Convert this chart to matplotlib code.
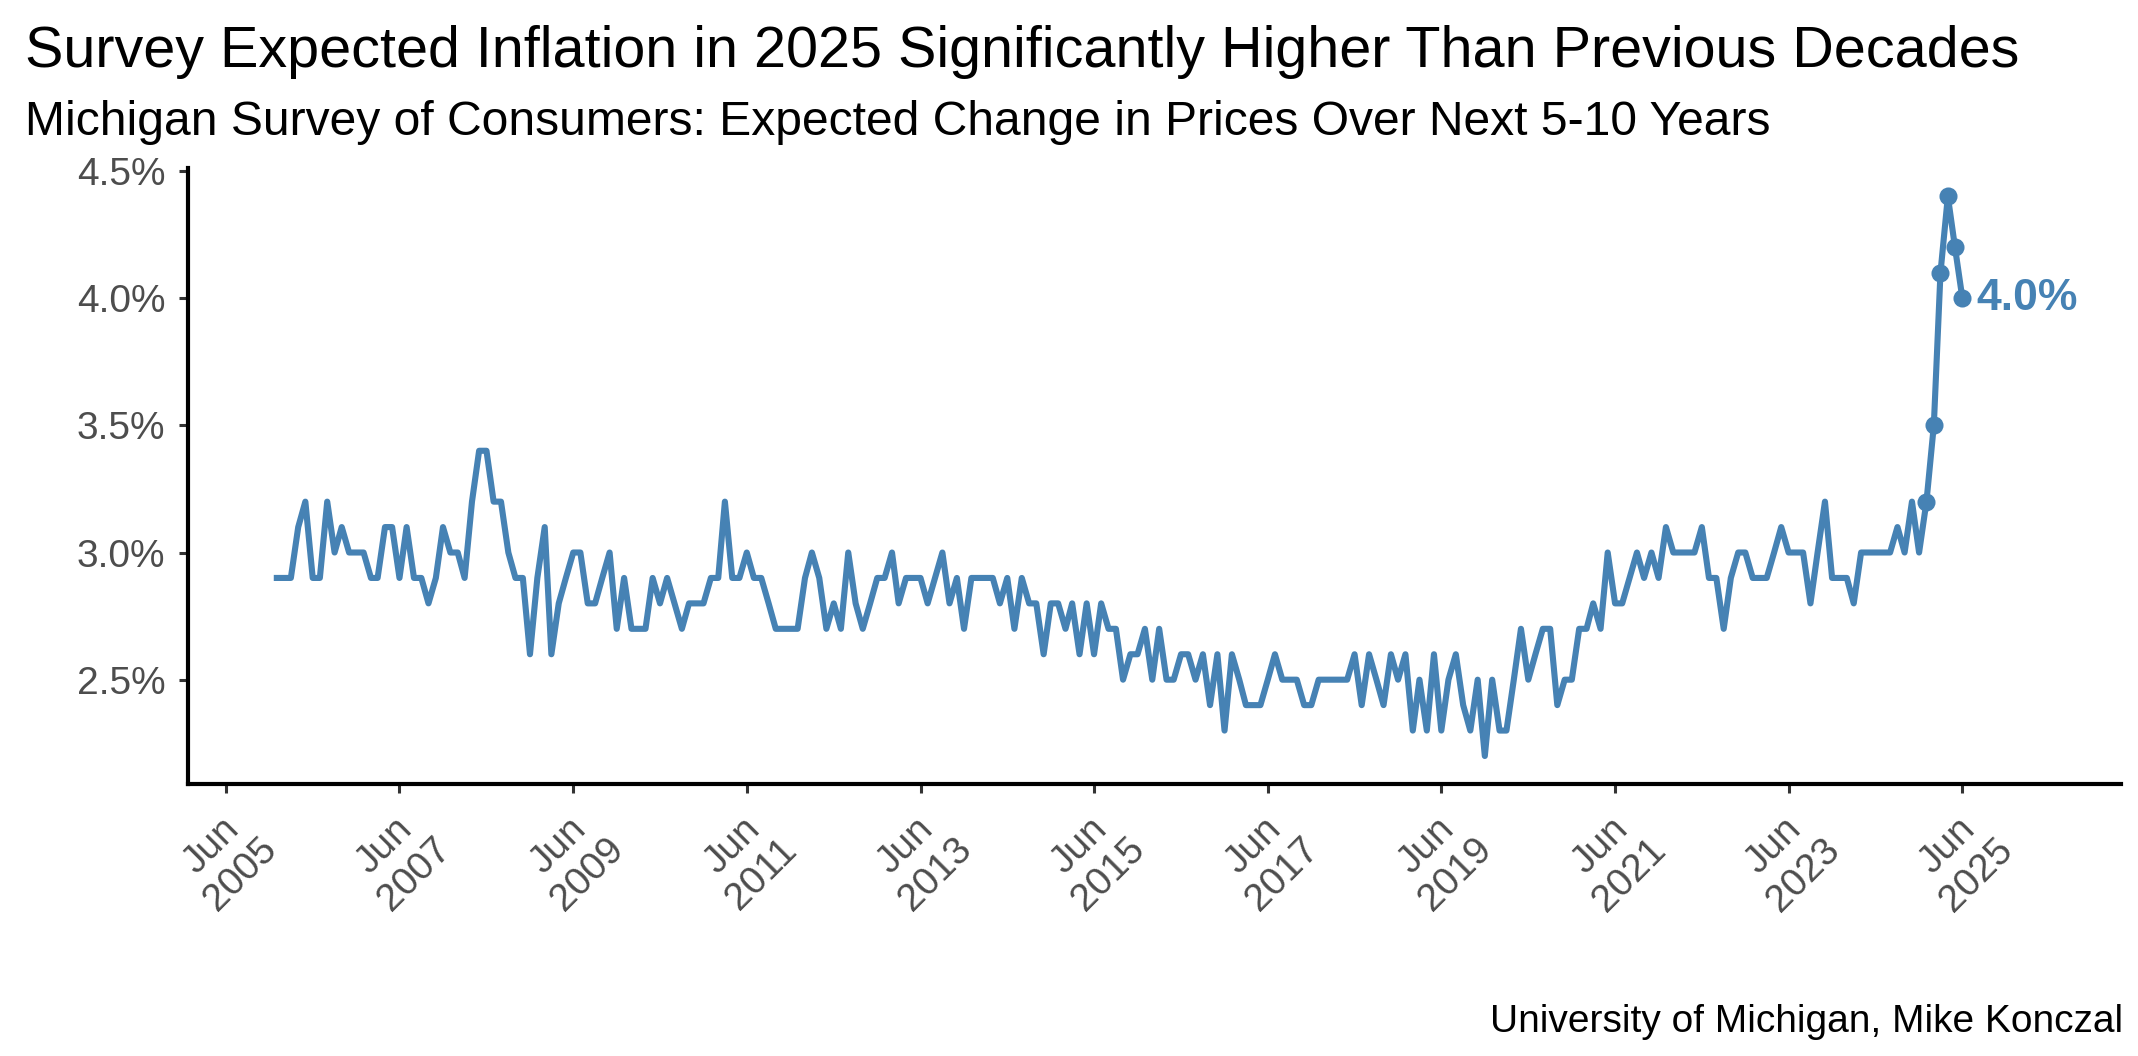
import pandas as pd
import matplotlib
matplotlib.use("Agg")
import matplotlib.pyplot as plt

plt.rcParams['font.family'] = ['Liberation Sans', 'DejaVu Sans']

title = "Survey Expected Inflation in 2025 Significantly Higher Than Previous Decades"
subtitle = "Michigan Survey of Consumers: Expected Change in Prices Over Next 5-10 Years"
caption = "University of Michigan, Mike Konczal"

# Expected change in prices over next 5-10 years (%), monthly from Jan 2006
v2006 = [2.9, 2.9, 2.9, 3.1, 3.2, 2.9, 2.9, 3.2, 3.0, 3.1, 3.0, 3.0]
v2007 = [3.0, 2.9, 2.9, 3.1, 3.1, 2.9, 3.1, 2.9, 2.9, 2.8, 2.9, 3.1]
v2008 = [3.0, 3.0, 2.9, 3.2, 3.4, 3.4, 3.2, 3.2, 3.0, 2.9, 2.9, 2.6]
v2009 = [2.9, 3.1, 2.6, 2.8, 2.9, 3.0, 3.0, 2.8, 2.8, 2.9, 3.0, 2.7]
v2010 = [2.9, 2.7, 2.7, 2.7, 2.9, 2.8, 2.9, 2.8, 2.7, 2.8, 2.8, 2.8]
v2011 = [2.9, 2.9, 3.2, 2.9, 2.9, 3.0, 2.9, 2.9, 2.8, 2.7, 2.7, 2.7]
v2012 = [2.7, 2.9, 3.0, 2.9, 2.7, 2.8, 2.7, 3.0, 2.8, 2.7, 2.8, 2.9]
v2013 = [2.9, 3.0, 2.8, 2.9, 2.9, 2.9, 2.8, 2.9, 3.0, 2.8, 2.9, 2.7]
v2014 = [2.9, 2.9, 2.9, 2.9, 2.8, 2.9, 2.7, 2.9, 2.8, 2.8, 2.6, 2.8]
v2015 = [2.8, 2.7, 2.8, 2.6, 2.8, 2.6, 2.8, 2.7, 2.7, 2.5, 2.6, 2.6]
v2016 = [2.7, 2.5, 2.7, 2.5, 2.5, 2.6, 2.6, 2.5, 2.6, 2.4, 2.6, 2.3]
v2017 = [2.6, 2.5, 2.4, 2.4, 2.4, 2.5, 2.6, 2.5, 2.5, 2.5, 2.4, 2.4]
v2018 = [2.5, 2.5, 2.5, 2.5, 2.5, 2.6, 2.4, 2.6, 2.5, 2.4, 2.6, 2.5]
v2019 = [2.6, 2.3, 2.5, 2.3, 2.6, 2.3, 2.5, 2.6, 2.4, 2.3, 2.5, 2.2]
v2020 = [2.5, 2.3, 2.3, 2.5, 2.7, 2.5, 2.6, 2.7, 2.7, 2.4, 2.5, 2.5]
v2021 = [2.7, 2.7, 2.8, 2.7, 3.0, 2.8, 2.8, 2.9, 3.0, 2.9, 3.0, 2.9]
v2022 = [3.1, 3.0, 3.0, 3.0, 3.0, 3.1, 2.9, 2.9, 2.7, 2.9, 3.0, 3.0]
v2023 = [2.9, 2.9, 2.9, 3.0, 3.1, 3.0, 3.0, 3.0, 2.8, 3.0, 3.2, 2.9]
v2024 = [2.9, 2.9, 2.8, 3.0, 3.0, 3.0, 3.0, 3.0, 3.1, 3.0, 3.2, 3.0]
v2025 = [3.2, 3.5, 4.1, 4.4, 4.2, 4.0]

values = (v2006 + v2007 + v2008 + v2009 + v2010 + v2011 + v2012 + v2013 + v2014
          + v2015 + v2016 + v2017 + v2018 + v2019 + v2020 + v2021 + v2022 + v2023
          + v2024 + v2025)
dates = pd.date_range("2006-01-01", periods=len(values), freq="MS")

tick_years = list(range(2005, 2026, 2))
tick_dates = [pd.Timestamp(y, 6, 1) for y in tick_years]
tick_labels = ["Jun\n%d" % y for y in tick_years]

y_ticks = [2.5, 3.0, 3.5, 4.0, 4.5]
y_labels = ["2.5%", "3.0%", "3.5%", "4.0%", "4.5%"]

line_col = "#4682B4"

fig = plt.figure(figsize=(10.69, 5.28), dpi=200)
ax = fig.add_axes([0.0879, 0.2576, 0.9041, 0.5829])

ax.plot(dates, values, color=line_col, lw=2.2, solid_joinstyle='round')
# highlight the 2025 readings
ax.plot(dates[-6:], values[-6:], 'o', color=line_col, ms=5.5)
ax.annotate("%.1f%%" % values[-1], (dates[-1], values[-1]), xytext=(5, 0),
            textcoords='offset points', ha='left', va='center',
            fontsize=16, fontweight='bold', color=line_col)

ax.set_ylim(2.09, 4.51)
ax.set_xlim(pd.Timestamp("2004-12-23"), pd.Timestamp("2027-03-30"))

ax.set_yticks(y_ticks)
ax.set_yticklabels(y_labels)
ax.set_xticks(tick_dates)
ax.set_xticklabels(tick_labels, rotation=45, ha='center', va='center',
                   rotation_mode='anchor', multialignment='center')

for s in ['top', 'right']:
    ax.spines[s].set_visible(False)
for s in ['left', 'bottom']:
    ax.spines[s].set_linewidth(1.5)
    ax.spines[s].set_color('black')

ax.tick_params(length=3.4, width=1.1, color='#333333', labelcolor='#4D4D4D',
               labelsize=14)
ax.tick_params(axis='y', pad=4.7)
ax.tick_params(axis='x', pad=24)

fig.text(25 / 2138, 1 - 66.7 / 1056, title, fontsize=20.7, va='baseline')
fig.text(25 / 2138, 1 - 135 / 1056, subtitle, fontsize=17.3, va='baseline')
fig.text(2123 / 2138, 1 - 1032 / 1056, caption, fontsize=14, va='baseline',
         ha='right')

fig.savefig("out.png", dpi=200)
